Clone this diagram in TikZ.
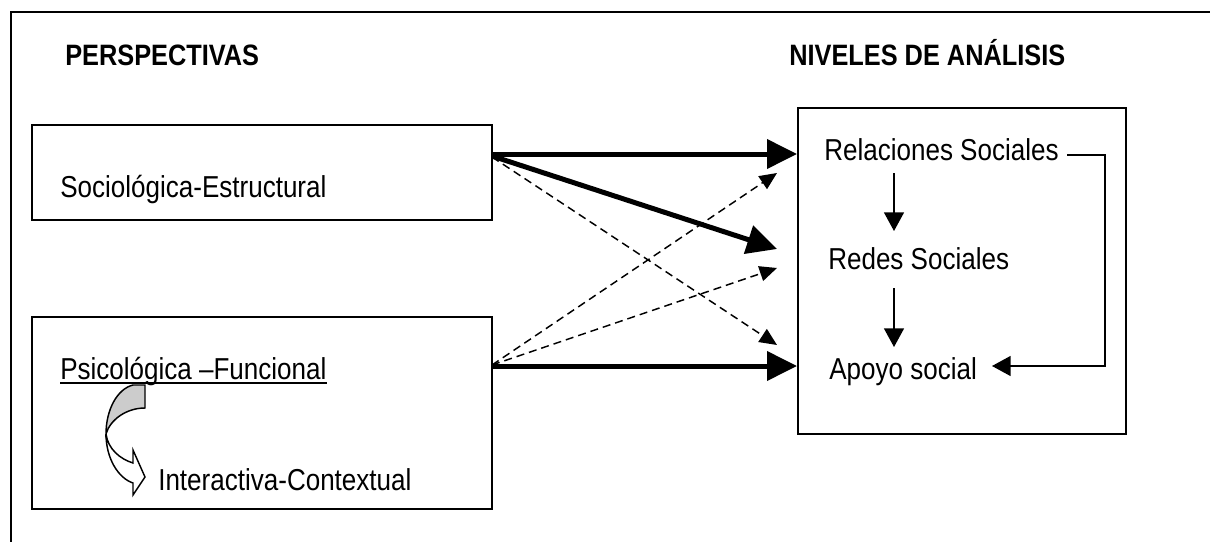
\documentclass[tikz,border=0pt]{standalone}
\usepackage{fontspec}
\setmainfont{Liberation Sans}[FakeStretch=0.86]
\usetikzlibrary{arrows.meta}
\begin{document}
\begin{tikzpicture}[x=0.75pt,y=-0.75pt,
  boxst/.style={draw, line width=1.5pt, inner sep=0, anchor=north west},
  txt/.style={anchor=base west, inner sep=0, font=\fontsize{22.7}{27}\selectfont},
  headst/.style={anchor=base west, inner sep=0, font=\bfseries\fontsize{22.1}{27}\selectfont},
  bigarrow/.style={line width=3.75pt, -{Triangle[length=22.5pt,width=21.5pt]}},
  dasharrow/.style={line width=1.1pt, dash pattern=on 6pt off 3.75pt, -{Triangle[length=13pt,width=11.5pt]}},
  thinarrow/.style={line width=1.1pt, -{Triangle[length=14pt,width=15pt]}}]
\useasboundingbox (0,0) rectangle (1210,542);
% outer frame
\draw[line width=1.5pt] (1212,12) -- (11,12) -- (11,544);
% headings
\node[headst] (persp) at (65,66) {PERSPECTIVAS};
\node[headst] (nivel) at (789,66) {NIVELES DE ANÁLISIS};
% left boxes
\node[boxst, minimum width=345pt, minimum height=71.25pt] (box1) at (31,124) {};
\node[boxst, minimum width=345pt, minimum height=144pt] (box2) at (31,316) {};
\node[txt] (soc) at (60,197) {Sociológica-Estructural};
\node[txt] (psi) at (60,379) {Psicológica –Funcional};
\draw[line width=1.5pt] ([yshift=-3pt]psi.base west) -- ([yshift=-3pt]psi.base east);
\node[txt] (inter) at (158,490) {Interactiva-Contextual};
% curved arrow
\draw[line width=1.1pt, fill=black!20]
  (145,385) -- (133,385) .. controls (117,389) and (106,410) .. (106,434)
  .. controls (110,420) and (126,408) .. (145,408) -- cycle;
\draw[line width=1.1pt, fill=white, line join=miter]
  (106,434) .. controls (106,458) and (118,478) .. (133,483) -- (133,495) -- (145,477)
  -- (133,450) -- (133,463) .. controls (120,459) and (108,449) .. (106,434) -- cycle;
% right box
\node[boxst, minimum width=246pt, minimum height=244.5pt] (rbox) at (797,107) {};
\node[txt] (rel) at (824,160) {Relaciones Sociales};
\node[txt] (red) at (828,269) {Redes Sociales};
\node[txt] (apo) at (829,379) {Apoyo social};
% connector coordinates
\coordinate (s1) at (492,154);
\coordinate (s1b) at (492,156);
\coordinate (s1c) at (492,157);
\coordinate (s2) at (492,366);
\coordinate (s2b) at (492,365);
\coordinate (t1) at (797,154);
\coordinate (t2) at (777,249);
\coordinate (t3) at (797,366);
\coordinate (d1) at (777,345);
\coordinate (d2) at (777,173);
\coordinate (d3) at (777,268);
% thick arrows
\draw[bigarrow] (s1) -- (t1);
\draw[bigarrow] (s1b) -- (t2);
\draw[bigarrow] (s2) -- (t3);
% dashed arrows
\draw[dasharrow] (s1c) -- (d1);
\draw[dasharrow] (s2b) -- (d2);
\draw[dasharrow] (s2b) -- (d3);
% inner arrows
\coordinate (r1) at (894,173);
\coordinate (r2) at (894,231);
\coordinate (r3) at (894,288);
\coordinate (r4) at (894,347);
\draw[thinarrow] (r1) -- (r2);
\draw[thinarrow] (r3) -- (r4);
\coordinate (fb1) at (1067,155);
\coordinate (fbc) at (1105,155);
\coordinate (fb2) at (992,366);
\draw[thinarrow] (fb1) -- (fbc) |- (fb2);
\end{tikzpicture}
\end{document}
